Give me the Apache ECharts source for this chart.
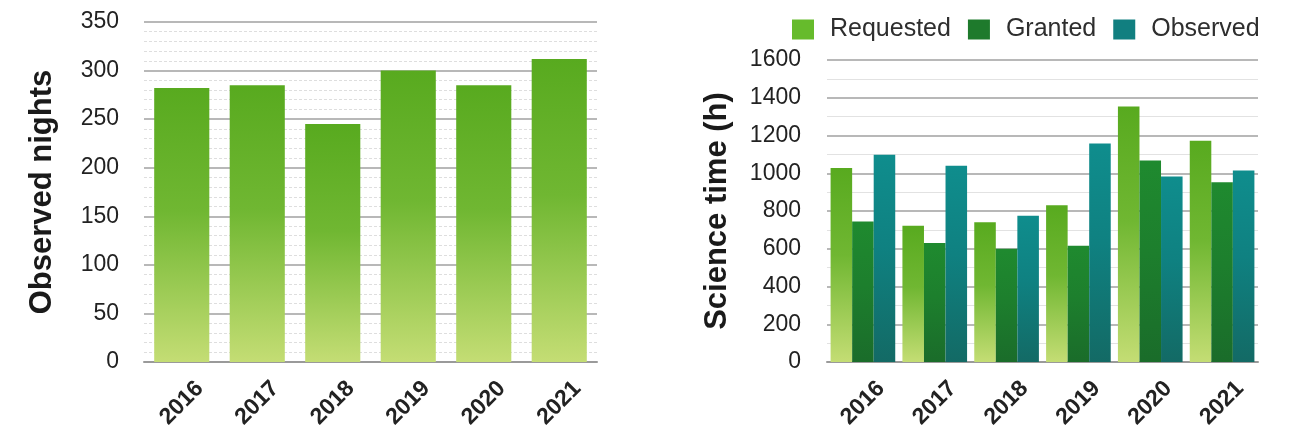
<!DOCTYPE html>
<html>
<head>
<meta charset="utf-8">
<style>
  html, body { margin: 0; padding: 0; background: #ffffff; }
  #chart { width: 1300px; height: 434px; }
</style>
<script src="https://cdn.jsdelivr.net/npm/echarts@6/dist/echarts.min.js"></script>
</head>
<body>
<div id="chart"></div>
<script>
// Observing statistics per year
const years = ['2016', '2017', '2018', '2019', '2020', '2021'];

// Left panel: nights on sky
const observedNights = [282, 285, 245, 300, 285, 312];
const nightsTicks = { min: 0, max: 350, interval: 50 };

// Right panel: science hours
const seriesNames = ['Requested', 'Granted', 'Observed'];
const requestedHours = [1028, 722, 740, 830, 1354, 1172];
const grantedHours = [745, 630, 600, 616, 1068, 952];
const observedHours = [1098, 1040, 775, 1157, 983, 1015];
const hoursTicks = { min: 0, max: 1600, interval: 200 };

const FONT = "'Liberation Sans', Arial, Helvetica, sans-serif";

function vGrad(top, mid, bottom) {
  return new echarts.graphic.LinearGradient(0, 0, 0, 1, [
    { offset: 0, color: top },
    { offset: 0.45, color: mid },
    { offset: 1, color: bottom }
  ]);
}

const lightGreen = vGrad('#58aa1f', '#70b732', '#c4dd74');
const darkGreen = vGrad('#1f8a2f', '#1d7f2d', '#1a6c2a');
const teal = vGrad('#0f8d8d', '#0f8181', '#136a65');

const plainNumber = function (v) { return String(v); };

const yLabel = { color: '#222222', fontSize: 23, fontFamily: FONT, formatter: plainNumber };
const xLabel = {
  color: '#222', fontSize: 23, fontWeight: 'bold', fontFamily: FONT,
  rotate: 45, align: 'center', verticalAlign: 'middle', margin: 41, interval: 0
};
const nameStyle = { color: '#1a1a1a', fontSize: 31, fontWeight: 'bold', fontFamily: FONT };

const option = {
  animation: false,
  backgroundColor: '#ffffff',
  legend: {
    data: seriesNames.map(function (n, i) {
      return { name: n, itemStyle: { color: ['#66bb2c', '#1e7a2c', '#117f80'][i] } };
    }),
    left: 787, top: 12,
    itemWidth: 22, itemHeight: 20, itemGap: 17,
    icon: 'rect',
    textStyle: { color: '#2e2e2e', fontSize: 25, fontFamily: FONT, padding: [0, 0, 0, 11] }
  },
  grid: [
    { left: 144, right: 703, top: 22, bottom: 72 },
    { left: 827, right: 42, top: 60, bottom: 72 }
  ],
  xAxis: [
    {
      type: 'category', gridIndex: 0, data: years,
      axisLine: { lineStyle: { color: '#9a9a9a', width: 2 } },
      axisTick: { show: false },
      axisLabel: xLabel
    },
    {
      type: 'category', gridIndex: 1, data: years,
      axisLine: { lineStyle: { color: '#9a9a9a', width: 2 } },
      axisTick: { show: false },
      axisLabel: xLabel
    }
  ],
  yAxis: [
    {
      type: 'value', gridIndex: 0,
      min: nightsTicks.min, max: nightsTicks.max, interval: nightsTicks.interval,
      name: 'Observed nights', nameLocation: 'middle', nameGap: 86, nameRotate: 90,
      nameTextStyle: nameStyle,
      axisLabel: Object.assign({ margin: 25 }, yLabel),
      axisLine: { show: false }, axisTick: { show: false },
      splitLine: { lineStyle: { color: '#a0a0a0', width: 1.5 } },
      minorTick: { show: false, splitNumber: 5 },
      minorSplitLine: { show: true, lineStyle: { color: '#dedede', width: 1, type: [3, 2] } }
    },
    {
      type: 'value', gridIndex: 1,
      min: hoursTicks.min, max: hoursTicks.max, interval: hoursTicks.interval,
      name: 'Science time (h)', nameLocation: 'middle', nameGap: 94, nameRotate: 90,
      nameTextStyle: nameStyle,
      axisLabel: Object.assign({ margin: 26 }, yLabel),
      axisLine: { show: false }, axisTick: { show: false },
      splitLine: { lineStyle: { color: '#a0a0a0', width: 1.5 } },
      minorTick: { show: false, splitNumber: 2 },
      minorSplitLine: { show: true, lineStyle: { color: '#e2e2e2', width: 1 } }
    }
  ],
  series: [
    {
      type: 'bar', xAxisIndex: 0, yAxisIndex: 0,
      data: observedNights, barCategoryGap: '27%',
      itemStyle: { color: lightGreen }
    },
    {
      name: seriesNames[0], type: 'bar', xAxisIndex: 1, yAxisIndex: 1,
      data: requestedHours, barGap: '0%', barCategoryGap: '10%',
      itemStyle: { color: lightGreen }
    },
    {
      name: seriesNames[1], type: 'bar', xAxisIndex: 1, yAxisIndex: 1,
      data: grantedHours, barGap: '0%', barCategoryGap: '10%',
      itemStyle: { color: darkGreen }
    },
    {
      name: seriesNames[2], type: 'bar', xAxisIndex: 1, yAxisIndex: 1,
      data: observedHours, barGap: '0%', barCategoryGap: '10%',
      itemStyle: { color: teal }
    }
  ]
};

const chart = echarts.init(document.getElementById('chart'), null, { renderer: 'canvas' });
chart.setOption(option);
</script>
</body>
</html>
